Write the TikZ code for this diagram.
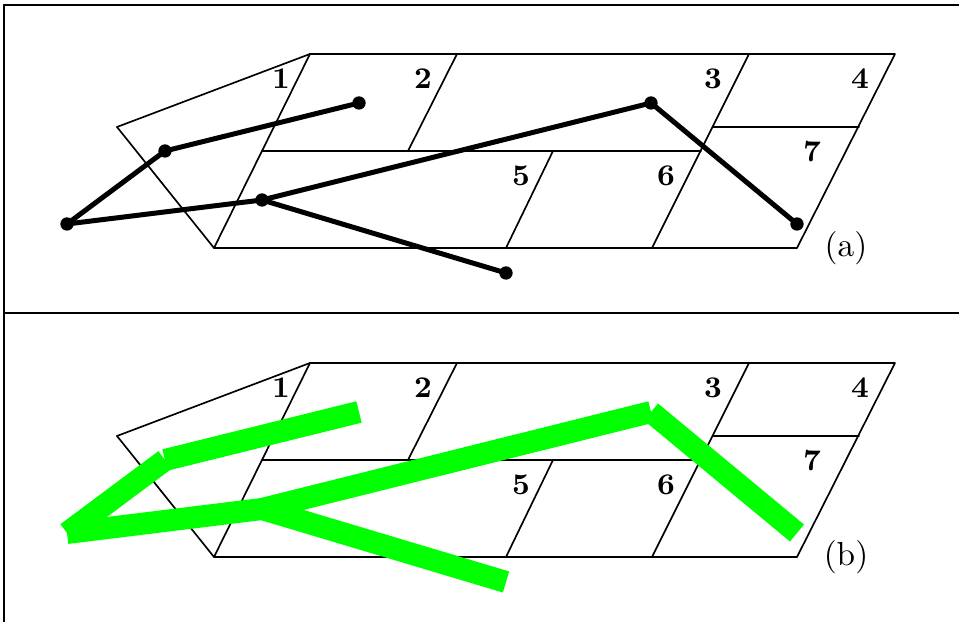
\documentclass[tikz,border=0pt]{standalone}
\usepackage{amsmath, amssymb}
\usepackage{tikz}
\usetikzlibrary{calc}
\usepackage{tkz-euclide}
\definecolor{tourgreen}{RGB}{0,255,0}

\begin{document}
\begin{tikzpicture}[x=0.3pt,y=0.3pt,
    region/.style={font=\small\bfseries},
    route/.style={line width=1.5pt},
    fatroute/.style={tourgreen,line width=6.6pt,line cap=butt}]
  \useasboundingbox (0,0) rectangle (959,-622);
  % frame
  \tkzDefPoint(4,-5){TL}
  \tkzDefPoint(959,-5){TR}
  \tkzDefPoint(4,-622){BL}
  \tkzDefPoint(4,-313){ML}
  \tkzDefPoint(959,-313){MR}
  \tkzDrawSegments[line width=0.6pt](TL,TR TL,BL ML,MR)
  % the same regions in both panels
  \foreach \dy/\pl in {0/a,309/b}{
    \begin{scope}[shift={(0,-\dy)}]
      \tkzDefPoint(310,-54){A}
      \tkzDefPoint(457,-54){B}
      \tkzDefPoint(749,-54){C}
      \tkzDefPoint(895,-54){D}
      \tkzDefPoint(117,-127){E}
      \tkzDefPoint(713,-127){F}
      \tkzDefPoint(859,-127){G}
      \tkzDefPoint(262,-151){H}
      \tkzDefPoint(408,-151){I}
      \tkzDefPoint(553,-151){J}
      \tkzDefPoint(701,-151){K}
      \tkzDefPoint(214,-248){L}
      \tkzDefPoint(506,-248){M}
      \tkzDefPoint(652,-248){N}
      \tkzDefPoint(797,-248){O}
      \tkzDrawPolygon[line width=0.5pt](A,D,O,L)
      \tkzDrawSegments[line width=0.5pt](A,E E,L B,I C,N J,M H,K F,G)
      \node[region] (r1\pl) at (281,-79) {1};
      \node[region] (r2\pl) at (423,-79) {2};
      \node[region] (r3\pl) at (713,-79) {3};
      \node[region] (r4\pl) at (860,-79) {4};
      \node[region] (r5\pl) at (521,-176) {5};
      \node[region] (r6\pl) at (666,-176) {6};
      \node[region] (r7\pl) at (812,-152) {7};
      \node (cap\pl) at (846,-248) {(\pl)};
      % stops of the tour
      \tkzDefPoint(359,-103){P1\pl}
      \tkzDefPoint(165,-151){P2\pl}
      \tkzDefPoint(67,-224){P3\pl}
      \tkzDefPoint(262,-200){P4\pl}
      \tkzDefPoint(651,-103){P5\pl}
      \tkzDefPoint(797,-224){P6\pl}
      \tkzDefPoint(506,-273){P7\pl}
    \end{scope}
  }
  % (a)
  \tkzDrawSegments[route](P1a,P2a P2a,P3a P3a,P4a P4a,P5a P5a,P6a P4a,P7a)
  \foreach \p in {P1a,P2a,P3a,P4a,P5a,P6a,P7a}
    \fill (\p) circle (2pt);
  % (b)
  \tkzDrawSegments[fatroute](P3b,P2b P2b,P1b P3b,P4b P4b,P5b P5b,P6b P4b,P7b)
\end{tikzpicture}
\end{document}
